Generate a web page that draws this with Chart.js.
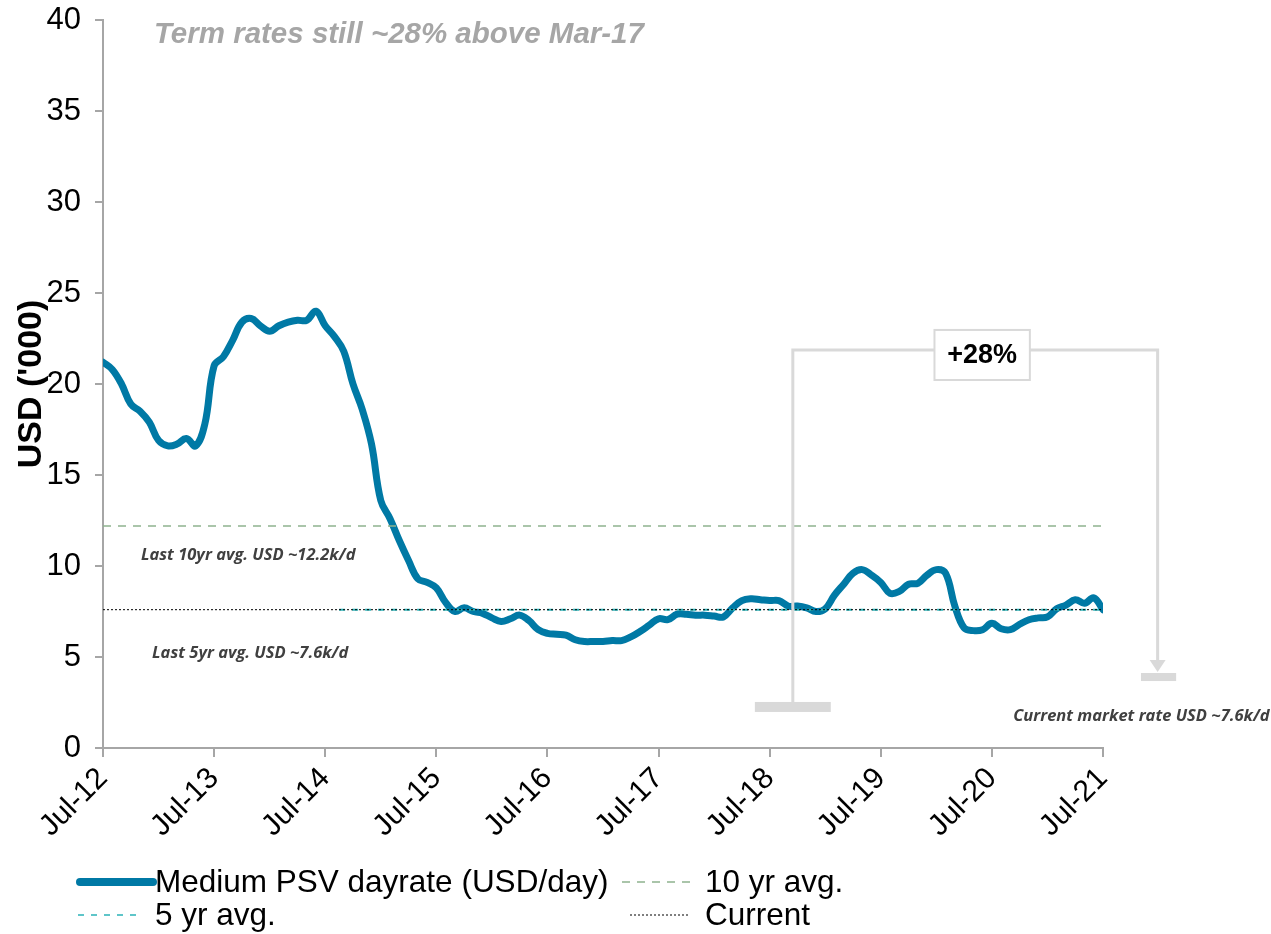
<!DOCTYPE html>
<html>
<head>
<meta charset="utf-8">
<script src="https://cdn.jsdelivr.net/npm/chart.js@4.4.1/dist/chart.umd.min.js"></script>
<style>
  html, body { margin: 0; padding: 0; background: #ffffff; }
  canvas { display: block; }
</style>
</head>
<body>
<canvas id="chart" width="1271" height="934"></canvas>
<script>
// Year labels on the x axis (one tick every 12 months, month 0 = Jul-12)
const yearLabels = ['Jul-12', 'Jul-13', 'Jul-14', 'Jul-15', 'Jul-16', 'Jul-17', 'Jul-18', 'Jul-19', 'Jul-20', 'Jul-21'];

// Medium PSV dayrate, USD '000 per day, monthly from Jul-12 to Jul-21
const dayrate = [
  21.2, 20.8, 20.0, 18.9, 18.5, 17.9, 16.9, 16.6, 16.7, 17.0, 16.6, 17.8,
  21.0, 21.5, 22.4, 23.4, 23.6, 23.2, 22.9, 23.2, 23.4, 23.5, 23.5, 24.0,
  23.2, 22.6, 21.8, 20.0, 18.6, 16.7, 13.6, 12.6, 11.4, 10.3, 9.3, 9.1,
  8.8, 8.0, 7.5, 7.7, 7.5, 7.4, 7.15, 6.95, 7.1, 7.3, 7.0, 6.5,
  6.3, 6.25, 6.2, 5.95, 5.85, 5.85, 5.85, 5.9, 5.9, 6.1, 6.4, 6.75,
  7.1, 7.05, 7.35, 7.35, 7.3, 7.3, 7.25, 7.2, 7.7, 8.1, 8.2, 8.15,
  8.1, 8.1, 7.8, 7.8, 7.7, 7.5, 7.65, 8.4, 9.0, 9.6, 9.8, 9.5,
  9.1, 8.5, 8.6, 9.0, 9.05, 9.5, 9.8, 9.6, 7.8, 6.6, 6.45, 6.5,
  6.85, 6.55, 6.5, 6.8, 7.05, 7.15, 7.2, 7.65, 7.85, 8.15, 7.95, 8.25,
  7.6
];

// Reference levels (USD '000 per day) and the month index where each line begins
const avg10yr = 12.2;
const avg5yr = 7.6;
const currentRate = 7.6;
const avg10yrStart = 0;
const avg5yrStart = 25.5;
const currentStart = 0;
const lastMonth = dayrate.length - 1;

// Annotation placement in data units (month index, USD '000)
const bracketGeom = { leftX: 74.5, rightX: 113.9, topY: 21.87, leftBottomY: 2.53, arrowBaseY: 4.84, arrowTipY: 4.18 };
const leftBase = { x0: 70.4, x1: 78.6, y0: 2.53, y1: 1.98 };
const rightBase = { x0: 112.1, x1: 115.9, y0: 4.12, y1: 3.68 };
const pctBox = { x0: 89.8, x1: 100.1, y0: 22.97, y1: 20.22, text: '+28%' };
const notes = [
  { text: 'Term rates still ~28% above Mar-17', x: 5.5, y: 39.2, font: 'italic bold 29.5px "Liberation Sans", Arial, sans-serif', color: '#a6a6a6' },
  { text: 'Last 10yr avg. USD ~12.2k/d', x: 4.1, y: 10.6, font: 'italic bold 16.5px "Open Sans", sans-serif', color: '#404040' },
  { text: 'Last 5yr avg. USD ~7.6k/d', x: 5.3, y: 5.2, font: 'italic bold 16.5px "Open Sans", sans-serif', color: '#404040' },
  { text: 'Current market rate USD ~7.6k/d', x: 98.3, y: 1.76, font: 'italic bold 16.5px "Open Sans", sans-serif', color: '#404040' }
];

const MAIN = '#0079a5';
const GREY_AXIS = '#a6a6a6';
const ANNOT = '#d9d9d9';

const flat = (start, end, v) => [{ x: start, y: v }, { x: end, y: v }];

// Bracket, arrow, bases, percentage box and text notes
const annotationPlugin = {
  id: 'annotations',
  afterDatasetsDraw(chart) {
    const { ctx } = chart;
    const X = v => chart.scales.x.getPixelForValue(v);
    const Y = v => chart.scales.y.getPixelForValue(v);
    const b = bracketGeom;
    ctx.save();
    ctx.strokeStyle = ANNOT;
    ctx.fillStyle = ANNOT;
    ctx.lineWidth = 3;
    ctx.beginPath();
    ctx.moveTo(X(b.leftX), Y(b.leftBottomY));
    ctx.lineTo(X(b.leftX), Y(b.topY));
    ctx.lineTo(X(b.rightX), Y(b.topY));
    ctx.lineTo(X(b.rightX), Y(b.arrowBaseY));
    ctx.stroke();
    ctx.beginPath();
    ctx.moveTo(X(b.rightX) - 8, Y(b.arrowBaseY));
    ctx.lineTo(X(b.rightX) + 8, Y(b.arrowBaseY));
    ctx.lineTo(X(b.rightX), Y(b.arrowTipY));
    ctx.closePath();
    ctx.fill();
    [leftBase, rightBase].forEach(r => {
      ctx.fillRect(X(r.x0), Y(r.y0), X(r.x1) - X(r.x0), Y(r.y1) - Y(r.y0));
    });
    // percentage box
    const bx = X(pctBox.x0), by = Y(pctBox.y0), bw = X(pctBox.x1) - bx, bh = Y(pctBox.y1) - by;
    ctx.fillStyle = '#ffffff';
    ctx.fillRect(bx, by, bw, bh);
    ctx.lineWidth = 2;
    ctx.strokeStyle = ANNOT;
    ctx.strokeRect(bx, by, bw, bh);
    ctx.fillStyle = '#000000';
    ctx.font = 'bold 27px "Liberation Sans", Arial, sans-serif';
    ctx.textAlign = 'center';
    ctx.textBaseline = 'middle';
    ctx.fillText(pctBox.text, bx + bw / 2, by + bh / 2 + 1);
    // notes
    ctx.textAlign = 'left';
    notes.forEach(n => {
      ctx.font = n.font;
      ctx.fillStyle = n.color;
      ctx.fillText(n.text, X(n.x), Y(n.y));
    });
    ctx.restore();
  }
};

// Two-column legend under the axis
const legendSlots = [
  { x: 80, y: 882, len: 73, textX: 155 },
  { x: 622, y: 882, len: 68, textX: 705 },
  { x: 78, y: 915, len: 62, textX: 155 },
  { x: 630, y: 915, len: 60, textX: 705 }
];
const legendPlugin = {
  id: 'gridLegend',
  afterDraw(chart) {
    const { ctx } = chart;
    ctx.save();
    chart.data.datasets.forEach((ds, i) => {
      const s = legendSlots[i];
      ctx.beginPath();
      ctx.strokeStyle = ds.borderColor;
      ctx.lineWidth = ds.legendWidth;
      ctx.lineCap = ds.borderDash ? 'butt' : 'round';
      ctx.setLineDash(ds.borderDash || []);
      ctx.moveTo(s.x, s.y);
      ctx.lineTo(s.x + s.len, s.y);
      ctx.stroke();
      ctx.setLineDash([]);
      ctx.fillStyle = '#000000';
      ctx.font = '31.5px "Liberation Sans", Arial, sans-serif';
      ctx.textAlign = 'left';
      ctx.textBaseline = 'middle';
      ctx.fillText(ds.label, s.textX, s.y + 1);
    });
    ctx.restore();
  }
};

new Chart(document.getElementById('chart'), {
  type: 'line',
  data: {
    datasets: [
      {
        label: 'Medium PSV dayrate (USD/day)',
        data: dayrate.map((v, i) => ({ x: i, y: v })),
        borderColor: MAIN,
        borderWidth: 7,
        tension: 0.4,
        pointRadius: 0,
        borderCapStyle: 'round',
        borderJoinStyle: 'round',
        legendWidth: 8,
        order: 3
      },
      {
        label: '10 yr avg.',
        data: flat(avg10yrStart, lastMonth, avg10yr),
        borderColor: '#8fb28f',
        borderWidth: 1.5,
        borderDash: [8, 7],
        pointRadius: 0,
        legendWidth: 1.5,
        order: 2
      },
      {
        label: '5 yr avg.',
        data: flat(avg5yrStart, lastMonth, avg5yr),
        borderColor: '#2ab3b8',
        borderWidth: 2,
        borderDash: [6, 7],
        pointRadius: 0,
        legendWidth: 1.5,
        order: 1
      },
      {
        label: 'Current',
        data: flat(currentStart, lastMonth, currentRate),
        borderColor: '#000000',
        borderWidth: 1,
        borderDash: [2, 2],
        pointRadius: 0,
        legendWidth: 1,
        order: 0
      }
    ]
  },
  options: {
    responsive: false,
    animation: false,
    events: [],
    layout: { padding: { left: 0, right: 168, top: 20, bottom: 0 } },
    plugins: { legend: { display: false }, tooltip: { enabled: false } },
    scales: {
      x: {
        type: 'linear',
        min: 0,
        max: lastMonth,
        afterFit: s => { s.height = 186; },
        afterBuildTicks: s => { s.ticks = yearLabels.map((_, i) => ({ value: i * 12 })); },
        border: { color: GREY_AXIS, width: 2 },
        grid: { drawOnChartArea: false, drawTicks: true, tickLength: 9, color: GREY_AXIS, lineWidth: 2 },
        ticks: {
          autoSkip: false,
          minRotation: 45,
          maxRotation: 45,
          padding: 4,
          color: '#000000',
          font: { family: '"Liberation Sans", Arial, sans-serif', size: 30 },
          callback: v => yearLabels[Math.round(v / 12)]
        }
      },
      y: {
        min: 0,
        max: 40,
        afterFit: s => { s.width = 103; s.paddingTop = 0; s.paddingBottom = 0; },
        border: { color: GREY_AXIS, width: 2 },
        grid: { drawOnChartArea: false, drawTicks: true, tickLength: 8, color: GREY_AXIS, lineWidth: 2 },
        ticks: {
          stepSize: 5,
          padding: 14,
          color: '#000000',
          font: { family: '"Liberation Sans", Arial, sans-serif', size: 31 }
        },
        title: {
          display: true,
          text: "USD ('000)",
          color: '#000000',
          padding: { top: 15, bottom: 0 },
          font: { family: '"Liberation Sans", Arial, sans-serif', size: 34, weight: 'bold', lineHeight: 1 }
        }
      }
    }
  },
  plugins: [annotationPlugin, legendPlugin]
});
</script>
</body>
</html>
